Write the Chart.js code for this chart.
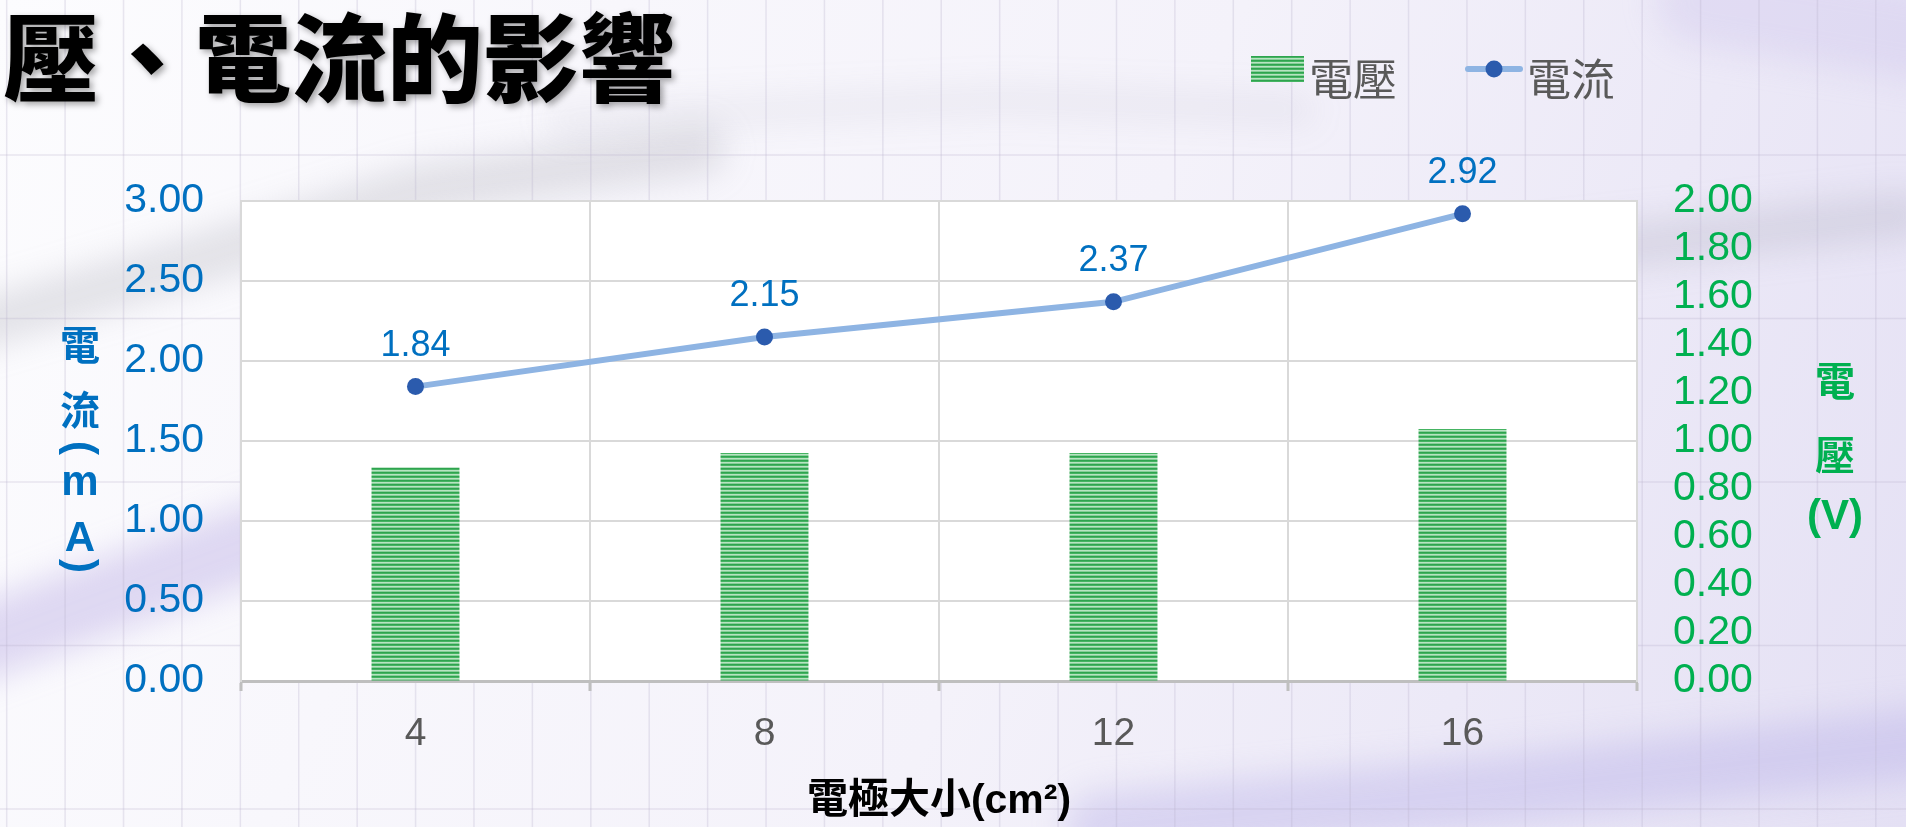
<!DOCTYPE html>
<html>
<head>
<meta charset="utf-8">
<script src="https://cdn.jsdelivr.net/npm/chart.js@4.4.0/dist/chart.umd.min.js"></script>
<style>
  html, body { margin: 0; padding: 0; overflow: hidden; background: #f4f2f9; }
  canvas { display: block; }
</style>
</head>
<body>
<canvas id="chart" width="1906" height="827"></canvas>
<script>
// electrode area (cm²) vs. measured voltage and current
const sizes = ["4", "8", "12", "16"];
const voltage = [0.89, 0.95, 0.95, 1.05];
const current = [1.84, 2.15, 2.37, 2.92];
const currentAxis = [0, 3, 0.5];   // min, max, step
const voltageAxis = [0, 2, 0.2];

const FONT = "'Liberation Sans', 'Noto Sans CJK TC', sans-serif";
const CJK = "'Noto Sans CJK TC', 'Liberation Sans', sans-serif";
Chart.defaults.font.family = FONT;

// narrow horizontal stripes for the voltage bars
function stripePattern() {
  const c = document.createElement("canvas");
  c.width = 4; c.height = 4;
  const g = c.getContext("2d");
  const rows = ["#2fa34f", "#45b462", "#b8e3c2", "#86cf99"];
  rows.forEach((col, i) => { g.fillStyle = col; g.fillRect(0, i, 4, 1); });
  return g.createPattern(c, "repeat");
}
const stripes = stripePattern();

const backdrop = {
  id: "backdrop",
  beforeDraw(chart) {
    const { ctx, width, height, chartArea: a } = chart;
    ctx.save();
    const g = ctx.createLinearGradient(0, 0, width, height);
    g.addColorStop(0, "#fcfcfe");
    g.addColorStop(0.55, "#f4f2fa");
    g.addColorStop(1, "#e4e0f4");
    ctx.fillStyle = g;
    ctx.fillRect(0, 0, width, height);

    // soft smudges
    ctx.filter = "blur(16px)";
    ctx.lineCap = "round";
    const smear = (pts, w, col) => {
      ctx.beginPath();
      pts.forEach(([x, y], i) => i ? ctx.lineTo(x, y) : ctx.moveTo(x, y));
      ctx.lineWidth = w; ctx.strokeStyle = col; ctx.stroke();
    };
    smear([[-40, 330], [180, 265], [420, 190], [700, 150]], 50, "rgba(140,140,155,0.22)");
    smear([[560, 120], [1000, 100], [1300, 110]], 30, "rgba(150,150,165,0.10)");
    smear([[1540, 255], [1906, 215]], 45, "rgba(140,140,160,0.20)");
    smear([[-40, 650], [150, 580], [300, 525], [420, 500]], 75, "rgba(160,140,220,0.30)");
    smear([[1100, 827], [1500, 790], [1950, 740]], 70, "rgba(175,165,230,0.35)");
    smear([[1700, 0], [1950, 40]], 90, "rgba(190,180,230,0.25)");
    ctx.filter = "none";

    // ruled paper lines
    ctx.strokeStyle = "rgba(185,180,205,0.30)";
    ctx.lineWidth = 1.5;
    for (let x = 6.7; x < width; x += 58.41) {
      ctx.beginPath(); ctx.moveTo(x, 0); ctx.lineTo(x, height); ctx.stroke();
    }
    for (let y = 155; y < height; y += 163.5) {
      ctx.beginPath(); ctx.moveTo(0, y); ctx.lineTo(width, y); ctx.stroke();
    }

    // plot area
    ctx.fillStyle = "#ffffff";
    ctx.fillRect(a.left, a.top, a.right - a.left, a.bottom - a.top);
    ctx.restore();
  }
};

const valueLabels = {
  id: "valueLabels",
  afterDatasetsDraw(chart) {
    const { ctx } = chart;
    const meta = chart.getDatasetMeta(0);
    const data = chart.data.datasets[0].data;
    ctx.save();
    ctx.font = "36px " + FONT;
    ctx.fillStyle = "#0070C0";
    ctx.textAlign = "center";
    ctx.textBaseline = "middle";
    meta.data.forEach((pt, i) => ctx.fillText(data[i].toFixed(2), pt.x, pt.y - 41));
    ctx.restore();
  }
};

const decorations = {
  id: "decorations",
  afterDraw(chart) {
    const { ctx } = chart;
    const [line, bars] = chart.data.datasets;
    ctx.save();

    // heading
    ctx.font = "900 96px " + CJK;
    ctx.textBaseline = "middle";
    ctx.textAlign = "left";
    ctx.shadowColor = "rgba(0,0,0,0.35)";
    ctx.shadowBlur = 6;
    ctx.shadowOffsetX = 3;
    ctx.shadowOffsetY = 3;
    ctx.fillStyle = "#000";
    ctx.fillText("壓、電流的影響", 3, 58);
    ctx.shadowColor = "transparent";

    // legend
    ctx.fillStyle = bars.backgroundColor;
    ctx.fillRect(1251, 56, 53, 26);
    ctx.font = "44px " + CJK;
    ctx.fillStyle = "#595959";
    ctx.fillText(bars.label, 1309, 79);
    ctx.strokeStyle = line.borderColor;
    ctx.lineWidth = 6;
    ctx.lineCap = "round";
    ctx.beginPath(); ctx.moveTo(1468, 69); ctx.lineTo(1520, 69); ctx.stroke();
    ctx.fillStyle = line.pointBackgroundColor;
    ctx.beginPath(); ctx.arc(1494, 69, 8.5, 0, Math.PI * 2); ctx.fill();
    ctx.fillStyle = "#595959";
    ctx.fillText(line.label, 1527, 79);

    // stacked vertical axis titles; parentheses turned sideways
    ctx.textAlign = "center";
    const stack = (parts, x, color) => {
      ctx.fillStyle = color;
      parts.forEach(([t, y, kind]) => {
        ctx.font = kind ? "bold 42px " + FONT : "bold 40px " + CJK;
        if (kind === "turn") {
          ctx.save();
          ctx.translate(x, y);
          ctx.rotate(Math.PI / 2);
          ctx.fillText(t, 0, 0);
          ctx.restore();
        } else {
          ctx.fillText(t, x, y);
        }
      });
    };
    stack([["電", 345], ["流", 410], ["(", 448, "turn"], ["m", 483, "latin"], ["A", 539, "latin"], [")", 566, "turn"]], 80, "#0070C0");
    stack([["電", 381], ["壓", 455], ["(V)", 517, "latin"]], 1835, "#00B050");
    ctx.restore();
  }
};

new Chart(document.getElementById("chart"), {
  type: "bar",
  data: {
    labels: sizes,
    datasets: [
      {
        type: "line",
        label: "電流",
        data: current,
        yAxisID: "yCurrent",
        borderColor: "#8EB4E3",
        borderWidth: 6,
        pointRadius: 8.5,
        pointBackgroundColor: "#2B5BAD",
        pointBorderWidth: 0,
        order: 0
      },
      {
        type: "bar",
        label: "電壓",
        data: voltage,
        yAxisID: "yVoltage",
        backgroundColor: stripes,
        categoryPercentage: 0.5,
        barPercentage: 0.504,
        order: 1
      }
    ]
  },
  options: {
    responsive: false,
    animation: false,
    layout: { padding: { top: 201, left: 0, right: 0, bottom: 0 } },
    plugins: { legend: { display: false }, tooltip: { enabled: false } },
    scales: {
      x: {
        offset: true,
        grid: { offset: true, color: "#d9d9d9", lineWidth: 2, tickLength: 10, tickColor: "#bfbfbf", tickWidth: 3 },
        border: { color: "#bfbfbf", width: 3 },
        ticks: { color: "#595959", font: { size: 39 }, padding: 20 },
        title: {
          display: true,
          text: "電極大小(cm²)",
          color: "#000",
          font: { size: 41, weight: "bold" },
          padding: { top: 0, bottom: 1 }
        },
        afterFit: s => { s.height = 146; }
      },
      yCurrent: {
        position: "left",
        min: currentAxis[0],
        max: currentAxis[1],
        ticks: { stepSize: currentAxis[2], autoSkip: false, color: "#0070C0", font: { size: 41 }, padding: 37, callback: v => v.toFixed(2) },
        grid: { color: "#d9d9d9", lineWidth: 2, drawTicks: false },
        border: { color: "#d9d9d9", width: 2 },
        afterFit: s => { s.width = 241; }
      },
      yVoltage: {
        position: "right",
        min: voltageAxis[0],
        max: voltageAxis[1],
        ticks: { stepSize: voltageAxis[2], autoSkip: false, color: "#00B050", font: { size: 41 }, padding: 36, callback: v => v.toFixed(2) },
        grid: { drawOnChartArea: false, drawTicks: false },
        border: { color: "#d9d9d9", width: 2 },
        afterFit: s => { s.width = 269; }
      }
    }
  },
  plugins: [backdrop, valueLabels, decorations]
});
</script>
</body>
</html>
